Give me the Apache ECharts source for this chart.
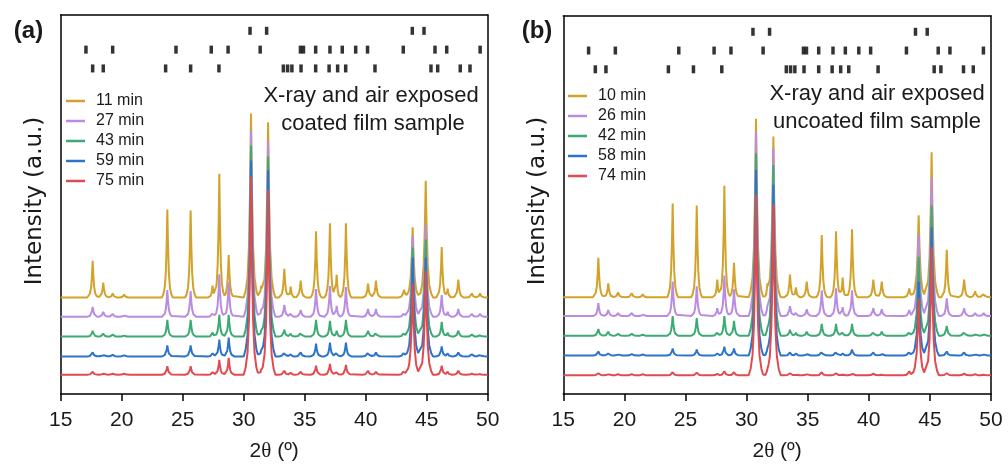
<!DOCTYPE html>
<html>
<head>
<meta charset="utf-8">
<script src="https://cdn.jsdelivr.net/npm/echarts@6/dist/echarts.min.js"></script>
<style>
  html, body { margin: 0; padding: 0; background: #fff; }
  #chart { width: 1008px; height: 467px; }
</style>
</head>
<body>
<div id="chart"></div>
<script>
// ---------- data ----------
// Scan times (legend entries)
const timesA = ['11 min', '27 min', '43 min', '59 min', '75 min'];
const timesB = ['10 min', '26 min', '42 min', '58 min', '74 min'];

// Reference reflection positions (2θ, deg), three rows of bars at the top
const refRow1 = [30.52, 31.88, 43.82, 44.78];
const refRow2 = [17.07, 19.26, 24.45, 27.34, 28.72, 31.35, 34.65, 34.9, 35.9, 37.07, 38.08, 39.18, 40.15, 43.08, 45.68, 46.64, 49.38];
const refRow3 = [17.62, 18.49, 23.6, 25.65, 27.97, 33.25, 33.6, 33.95, 34.7, 35.9, 37.0, 37.7, 38.36, 40.76, 45.35, 45.9, 47.75, 48.55];

// Coated film: peak centres (2θ), breadths (half base width, deg) and heights per scan
const peaksA = [17.62, 18.49, 19.26, 20.2, 23.74, 25.65, 27.45, 28.0, 28.77, 30.6, 31.42, 32.0, 33.33, 33.85, 34.67, 35.93, 37.07, 37.62, 38.38, 40.19, 40.84, 43.14, 43.85, 44.92, 46.23, 46.72, 47.59, 48.7, 49.37];
const breadthA = [0.45, 0.45, 0.45, 0.45, 0.45, 0.45, 0.4, 0.45, 0.45, 0.6, 0.35, 0.6, 0.45, 0.35, 0.45, 0.45, 0.45, 0.35, 0.45, 0.45, 0.45, 0.45, 0.6, 0.6, 0.45, 0.35, 0.45, 0.45, 0.45];
const heightsA11 = [37, 15, 4, 3, 89, 88, 12, 125, 43, 186, 11, 177, 29, 11, 17, 67, 75, 23, 75, 14, 17, 8, 71, 118, 51, 9, 18, 4, 4];
const heightsA27 = [10, 5, 3, 2, 27, 26, 5, 43, 35, 188, 6, 178, 12, 5, 7, 28, 31, 11, 30, 8, 8, 5, 82, 93, 22, 5, 8, 3, 3];
const heightsA43 = [6, 3, 2, 1, 17, 17, 4, 22, 22, 193, 5, 182, 7, 3, 5, 17, 16, 6, 17, 6, 5, 5, 90, 98, 15, 4, 6, 2, 2];
const heightsA59 = [4, 2, 1.5, 1, 11, 11, 3, 17, 19, 198, 5, 188, 5, 2, 4, 13, 14, 5, 14, 5, 4, 5, 100, 100, 10, 3, 4, 2, 2];
const heightsA75 = [3, 1.5, 1, 1, 8.5, 8.5, 2.5, 15, 17, 200, 4, 187, 4, 2, 3, 9, 11, 4, 10, 4, 3, 5, 92, 105, 9, 3, 4, 1, 1];
// vertical stacking offset of each scan (a.u.)
const offsetsA = [97.5, 78, 58, 38, 19.5];

// Uncoated film
const peaksB = [17.87, 18.68, 19.48, 20.6, 21.5, 23.95, 25.92, 27.6, 28.18, 28.97, 30.77, 31.7, 32.19, 33.55, 34.04, 34.92, 36.15, 37.32, 37.86, 38.63, 40.37, 41.06, 43.31, 44.08, 45.14, 46.38, 47.8, 48.7, 49.4];
const breadthB = [0.45, 0.45, 0.45, 0.45, 0.45, 0.45, 0.45, 0.4, 0.45, 0.45, 0.6, 0.35, 0.6, 0.45, 0.35, 0.45, 0.45, 0.45, 0.35, 0.45, 0.45, 0.45, 0.45, 0.6, 0.6, 0.45, 0.45, 0.45, 0.45];
const heightsB10 = [40, 14, 5, 4, 3, 95, 93, 18, 113, 35, 181, 10, 163, 23, 10, 16, 63, 67, 20, 69, 18, 16, 9, 83, 147, 48, 18, 6, 5];
const heightsB26 = [13, 6, 3, 3, 2, 35, 30, 8, 41, 27, 187, 6, 170, 10, 5, 7, 26, 28, 9, 26, 8, 7, 6, 83, 140, 18, 8, 3, 3];
const heightsB42 = [7, 4, 2, 2, 1, 20, 18, 5, 20, 15, 185, 4, 173, 6, 3, 4, 12, 12, 5, 12, 5, 4, 5, 80, 132, 10, 5, 2, 2];
const heightsB58 = [4, 2, 1.5, 1.5, 1, 7, 6, 2, 9, 7, 188, 3, 173, 3, 2, 2, 5, 5, 2, 6, 3, 2, 5, 75, 130, 4, 3, 1.5, 1.5];
const heightsB74 = [2, 1.5, 1, 1, 1, 3, 2.5, 1.5, 4, 3, 183, 2, 173, 2, 1, 1.5, 3, 2, 1, 2, 1.5, 1, 4, 78, 130, 2, 1.5, 1, 1];
const offsetsB = [98, 79, 59, 39, 19];

// ---------- styling ----------
const COLORS = ['#D2A22B', '#B98CE1', '#3CAA73', '#2D73CD', '#E14B50'];
const FONT = '"Liberation Sans", Arial, sans-serif';
const WIDE_FONT = '"DejaVu Sans", Verdana, sans-serif';
const INK = '#1a1a1a';
// peak profile: distance from centre (fraction of breadth) -> fraction of height
const PROFILE_DX = [0, 0.12, 0.28, 0.48, 0.74, 1];
const PROFILE_FR = [1, 0.6, 0.28, 0.11, 0.035, 0];
// y levels of the three reference bar rows
const ROW_Y = [367, 348, 329];

function profile(t) {
  t = Math.abs(t);
  if (t >= 1) return 0;
  for (let i = 1; i < PROFILE_DX.length; i++) {
    if (t <= PROFILE_DX[i]) {
      const f = (t - PROFILE_DX[i - 1]) / (PROFILE_DX[i] - PROFILE_DX[i - 1]);
      return PROFILE_FR[i - 1] + f * (PROFILE_FR[i] - PROFILE_FR[i - 1]);
    }
  }
  return 0;
}

// polyline of one scan: the stacking offset plus each listed peak
function scan(peaks, breadth, heights, offset) {
  const xs = new Set([15, 50]);
  peaks.forEach((p, i) => {
    PROFILE_DX.forEach(d => {
      xs.add(+(p - d * breadth[i]).toFixed(4));
      xs.add(+(p + d * breadth[i]).toFixed(4));
    });
  });
  return Array.from(xs).filter(x => x >= 15 && x <= 50).sort((a, b) => a - b).map(x => {
    let y = offset;
    peaks.forEach((p, i) => { y += heights[i] * profile((x - p) / breadth[i]); });
    return [x, y];
  });
}

const panels = [
  { times: timesA, peaks: peaksA, breadth: breadthA, heights: [heightsA11, heightsA27, heightsA43, heightsA59, heightsA75], offsets: offsetsA },
  { times: timesB, peaks: peaksB, breadth: breadthB, heights: [heightsB10, heightsB26, heightsB42, heightsB58, heightsB74], offsets: offsetsB }
];

const grids = [
  { left: 60.7, right: 520.3, top: 15, bottom: 69 },
  { left: 563.3, right: 17, top: 16, bottom: 68 }
];

const frameLine = { show: true, onZero: false, lineStyle: { color: '#000', width: 1.5 } };
const xAxes = [], yAxes = [], series = [];

grids.forEach((g, gi) => {
  xAxes.push({
    gridIndex: gi, type: 'value', min: 15, max: 50, interval: 5, position: 'bottom',
    axisLine: frameLine,
    axisTick: { show: true, inside: false, length: 7, lineStyle: { color: '#000', width: 1.5 } },
    axisLabel: { fontSize: 21, color: INK, margin: 16, fontFamily: FONT },
    splitLine: { show: false },
    name: '{n|2}{t|θ}{n| (º)}', nameLocation: 'middle', nameGap: 47,
    nameTextStyle: {
      rich: {
        n: { fontSize: 21, color: INK, fontFamily: FONT },
        t: { fontSize: 21, color: INK, fontFamily: '"Liberation Serif", serif' }
      }
    }
  });
  xAxes.push({
    gridIndex: gi, type: 'value', min: 15, max: 50, position: 'top',
    axisLine: frameLine, axisTick: { show: false }, axisLabel: { show: false }, splitLine: { show: false }
  });
  yAxes.push({
    gridIndex: gi, type: 'value', min: 0, max: 383, position: 'left',
    axisLine: frameLine, axisTick: { show: false }, axisLabel: { show: false }, splitLine: { show: false }
  });
  yAxes.push({
    gridIndex: gi, type: 'value', min: 0, max: 383, position: 'right',
    axisLine: frameLine, axisTick: { show: false }, axisLabel: { show: false }, splitLine: { show: false }
  });

  const P = panels[gi];
  P.times.forEach((name, si) => {
    series.push({
      name, type: 'line', xAxisIndex: gi * 2, yAxisIndex: gi * 2,
      data: scan(P.peaks, P.breadth, P.heights[si], P.offsets[si]),
      showSymbol: false, symbol: 'none', silent: true,
      lineStyle: { color: COLORS[si], width: 2 },
      itemStyle: { color: COLORS[si] }
    });
  });

  [refRow1, refRow2, refRow3].forEach((row, ri) => {
    series.push({
      type: 'scatter', xAxisIndex: gi * 2, yAxisIndex: gi * 2, silent: true,
      symbol: 'rect', symbolSize: [3.5, 8],
      itemStyle: { color: '#000' },
      data: row.map(x => [x, ROW_Y[ri]])
    });
  });
});

const legendBase = {
  orient: 'vertical', icon: 'rect', itemWidth: 19, itemHeight: 2.5, itemGap: 4,
  textStyle: { fontSize: 16, color: INK, fontFamily: FONT, lineHeight: 16, padding: [0, 0, 0, 6] }
};

function label(text, x, y, size, extra) {
  const el = {
    type: 'text', x, y, silent: true,
    style: { text, fontSize: size, fontFamily: FONT, fill: INK, align: 'center', verticalAlign: 'middle' }
  };
  if (extra) {
    if (extra.style) Object.assign(el.style, extra.style);
    if (extra.rotation) el.rotation = extra.rotation;
  }
  return el;
}

const chart = echarts.init(document.getElementById('chart'), null, { renderer: 'canvas' });
chart.setOption({
  animation: false,
  backgroundColor: '#fff',
  grid: grids,
  xAxis: xAxes,
  yAxis: yAxes,
  legend: [
    Object.assign({ left: 61, top: 88, data: timesA }, legendBase),
    Object.assign({ left: 563, top: 83, data: timesB }, legendBase)
  ],
  graphic: [
    label('(a)', 28.5, 31, 24, { style: { fontWeight: 'bold' } }),
    label('(b)', 537, 31, 24, { style: { fontWeight: 'bold' } }),
    label('Intensity (a.u.)', 35, 201, 23, { rotation: Math.PI / 2, style: { fontFamily: WIDE_FONT } }),
    label('Intensity (a.u.)', 538, 201, 23, { rotation: Math.PI / 2, style: { fontFamily: WIDE_FONT } }),
    label('X-ray and air exposed', 371, 96, 22),
    label('coated film sample', 373, 124, 22),
    label('X-ray and air exposed', 877, 94, 22),
    label('uncoated film sample', 877, 122, 22)
  ],
  series
});
</script>
</body>
</html>
